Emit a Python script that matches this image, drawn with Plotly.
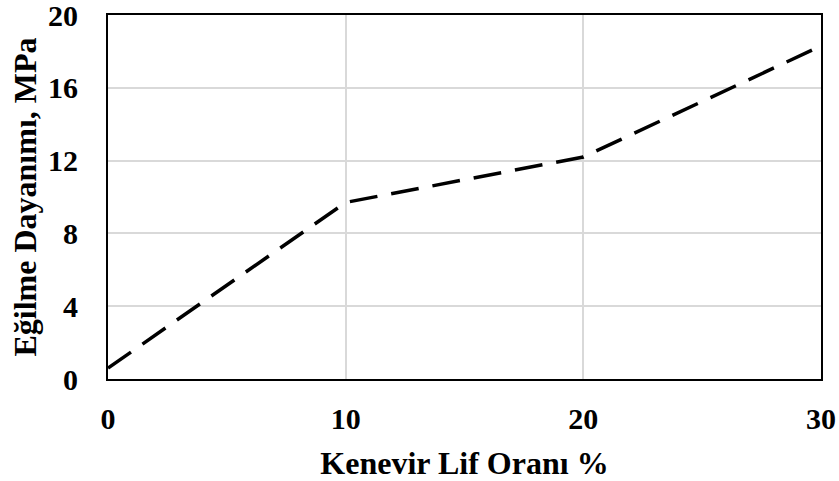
import plotly.graph_objects as go

fiber_ratio = [0, 10, 20, 30]
flexural_strength = [0.6, 9.7, 12.2, 18.3]
x_ticks = [0, 10, 20, 30]
y_ticks = [0, 4, 8, 12, 16, 20]

FONT = "Liberation Serif"

fig = go.Figure()
fig.add_trace(go.Scatter(
    x=fiber_ratio, y=flexural_strength, mode="lines",
    line=dict(color="black", width=3.5, dash="28px,14px"),
    showlegend=False,
))

fig.update_layout(
    width=839, height=481,
    margin=dict(l=108, r=18, t=15, b=102),
    paper_bgcolor="white", plot_bgcolor="white",
    font=dict(family=FONT, color="black"),
    xaxis=dict(
        range=[0, 30], tickvals=x_ticks, ticktext=[str(v) for v in x_ticks],
        showgrid=True, gridcolor="#d9d9d9", gridwidth=1.5,
        showline=True, linecolor="black", linewidth=2, mirror=True,
        zeroline=False, ticks="", ticklabelstandoff=12, automargin=False,
        ticklabeloverflow="allow",
        tickfont=dict(family=FONT, size=30, weight="bold", color="black"),
        title=dict(text="Kenevir Lif Oranı %", standoff=28,
                   font=dict(family=FONT, size=32, weight="bold", color="black")),
    ),
    yaxis=dict(
        range=[0, 20], tickvals=y_ticks, ticktext=[str(v) for v in y_ticks],
        showgrid=True, gridcolor="#d9d9d9", gridwidth=1.5,
        showline=True, linecolor="black", linewidth=2, mirror=True,
        zeroline=False, ticks="", ticklabelstandoff=22, automargin=False,
        ticklabeloverflow="allow",
        tickfont=dict(family=FONT, size=30, weight="bold", color="black"),
        title=dict(text="Eğilme Dayanımı, MPa", standoff=2,
                   font=dict(family=FONT, size=32, weight="bold", color="black")),
    ),
)

fig.write_html("out.html", config={"displayModeBar": False},
               post_script="document.body.style.margin='0';")
